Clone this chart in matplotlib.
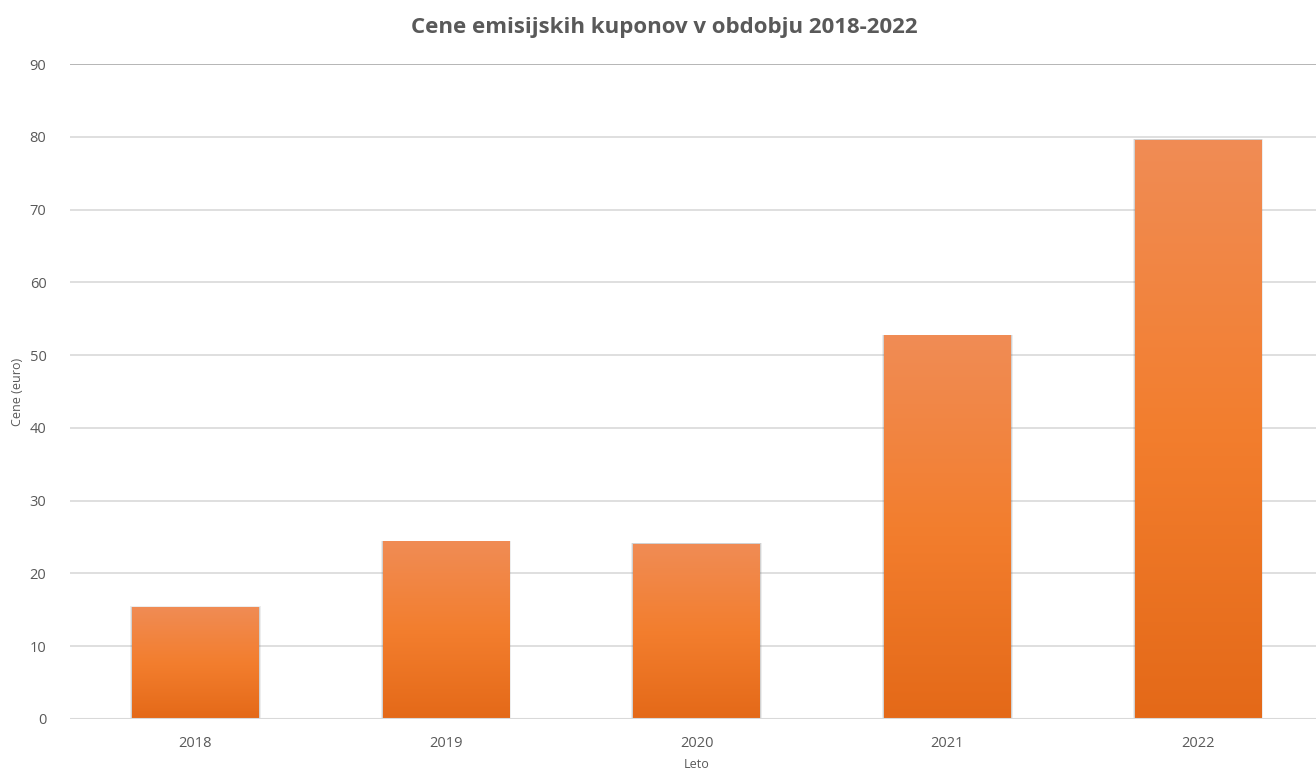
import numpy as np
import matplotlib
matplotlib.use("Agg")
import matplotlib.pyplot as plt
from matplotlib.colors import LinearSegmentedColormap
from matplotlib.patches import Rectangle

years = ["2018", "2019", "2020", "2021", "2022"]
prices = [15.4, 24.4, 24.1, 52.7, 79.6]

TXT = "#595959"
GRID = "#D9D9D9"
grad = LinearSegmentedColormap.from_list("bar", ["#E46918", "#F37E2E", "#F08C55"])

plt.rcParams["font.family"] = ["Open Sans", "DejaVu Sans"]

fig = plt.figure(figsize=(13.16, 7.73), dpi=100)
ax = fig.add_axes([0.0532, 0.0699, 0.9525, 0.8473])

x = np.arange(len(years))
width = 0.505
bars = ax.bar(x, prices, width=width, color="none", zorder=3)

# gradient fill + soft shadow per bar
g = np.linspace(0, 1, 256).reshape(-1, 1)
for b in bars:
    x0, w, h = b.get_x(), b.get_width(), b.get_height()
    for k, a in ((0.016, 0.12), (0.008, 0.22)):
        ax.add_patch(Rectangle((x0 - k * 0.5, 0), w + k, h + k * 6, color="#707070",
                               alpha=a, lw=0, zorder=2))
    im = ax.imshow(g, cmap=grad, extent=(x0, x0 + w, 0, h), origin="lower",
                   aspect="auto", zorder=3)
    im.set_clip_path(b)

ax.set_xlim(-0.5, 4.5)
ax.set_ylim(0, 90)
ax.set_yticks(range(0, 91, 10))
ax.set_xticks(x)
ax.set_xticklabels(years)
ax.yaxis.grid(True, color=GRID, lw=1.2, zorder=0)
ax.set_axisbelow(True)
for s in ("left", "right", "bottom", "top"):
    ax.spines[s].set_visible(False)
ax.axhline(90, color="#B0B0B0", lw=1.2, zorder=1)
ax.axhline(0, color=GRID, lw=1.5, zorder=4)
ax.tick_params(axis="both", length=0, colors=TXT, labelsize=10.5)
ax.tick_params(axis="y", pad=17)
ax.tick_params(axis="x", pad=12)

ax.set_ylabel("Cene (euro)", color=TXT, fontsize=9, labelpad=4)
ax.set_xlabel("Leto", color=TXT, fontsize=9, labelpad=5)
fig.suptitle("Cene emisijskih kuponov v obdobju 2018-2022", x=0.505, y=0.978,
             fontsize=16, fontweight="bold", color=TXT)

fig.savefig("out.png", dpi=100)
